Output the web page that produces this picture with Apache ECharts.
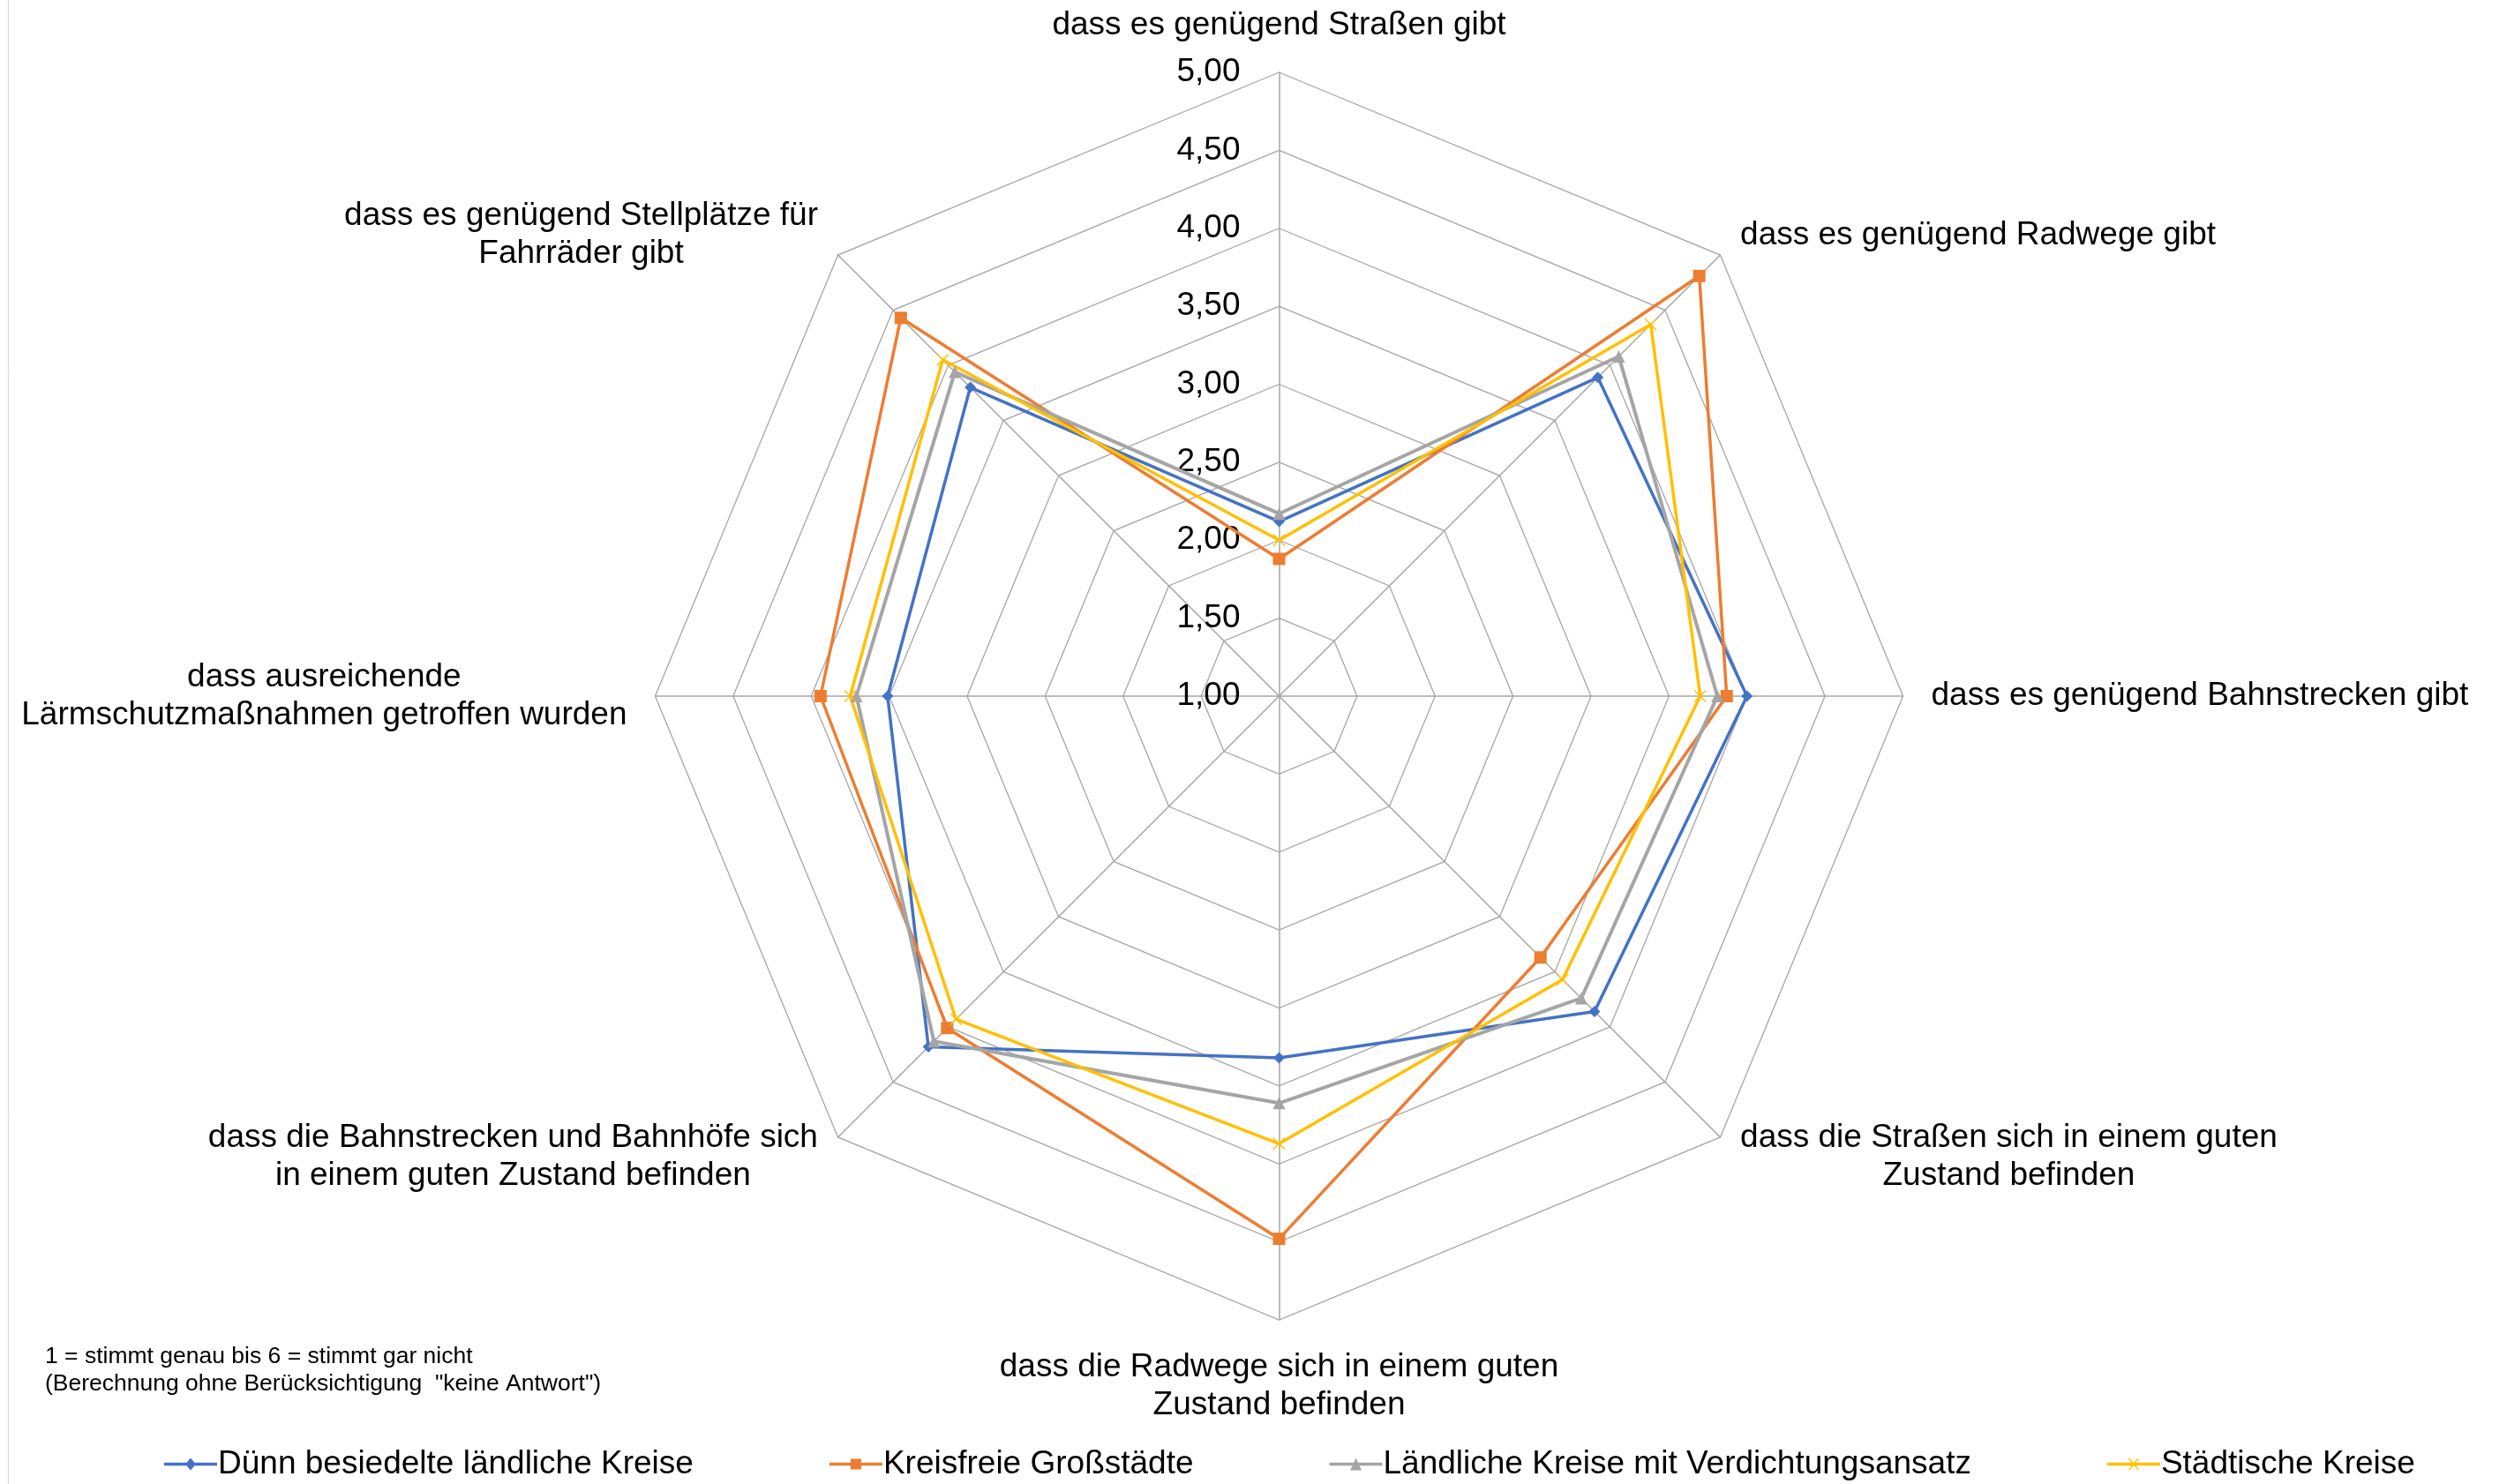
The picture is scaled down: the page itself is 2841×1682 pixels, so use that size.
<!DOCTYPE html>
<html>
<head>
<meta charset="utf-8">
<script src="https://cdn.jsdelivr.net/npm/echarts@6/dist/echarts.min.js"></script>
<style>
html,body{margin:0;padding:0;background:#fff;}
#chart{width:2841px;height:1682px;}
</style>
</head>
<body>
<div id="chart"></div>
<script>
// Categories in clockwise order starting at the top
const categories = [
  'dass es genügend Straßen gibt',
  'dass es genügend Radwege gibt',
  'dass es genügend Bahnstrecken gibt',
  'dass die Straßen sich in einem guten\nZustand befinden',
  'dass die Radwege sich in einem guten\nZustand befinden',
  'dass die Bahnstrecken und Bahnhöfe sich\nin einem guten Zustand befinden',
  'dass ausreichende\nLärmschutzmaßnahmen getroffen wurden',
  'dass es genügend Stellplätze für\nFahrräder gibt'
];
const seriesNames = [
  'Dünn besiedelte ländliche Kreise',
  'Kreisfreie Großstädte',
  'Ländliche Kreise mit Verdichtungsansatz',
  'Städtische Kreise'
];
const duennBesiedelt = [2.12, 3.89, 4.00, 3.86, 3.32, 4.18, 3.51, 3.80];
const kreisfreieGrossstaedte = [1.88, 4.81, 3.87, 3.37, 4.48, 4.01, 3.94, 4.43];
const laendlicheVerdichtung = [2.17, 4.08, 3.81, 3.74, 3.61, 4.13, 3.71, 3.94];
const staedtischeKreise = [2.00, 4.37, 3.70, 3.57, 3.87, 3.93, 3.75, 4.05];
const axisMin = 1;
const axisMax = 5;
const axisInterval = 0.5;
const noteLines = [
  '1 = stimmt genau bis 6 = stimmt gar nicht',
  '(Berechnung ohne Berücksichtigung  "keine Antwort")'
];

// ECharts radar runs counter-clockwise: reorder so the visual order is clockwise
const order = [0, 7, 6, 5, 4, 3, 2, 1];
const reorder = arr => order.map(i => arr[i]);

const colors = ['#4472C4', '#ED7D31', '#A5A5A5', '#FFC000'];
const symbols = [
  'diamond',
  'rect',
  'triangle',
  'path://M0,0.7 L0.7,0 L5,4.3 L9.3,0 L10,0.7 L5.7,5 L10,9.3 L9.3,10 L5,5.7 L0.7,10 L0,9.3 L4.3,5 Z'
];
const symbolSizes = [13, 14, 14, 14];
const allValues = [duennBesiedelt, kreisfreieGrossstaedte, laendlicheVerdichtung, staedtischeKreise];

// Legend icons: line segment with the series marker in the middle (60 x 14 box)
const legendLine = 'M0,5.3 H60 V8.7 H0 Z ';
const legendIcons = [
  'path://' + legendLine + 'M30,0 L36,7 L30,14 L24,7 Z',
  'path://' + legendLine + 'M24,1 H36 V13 H24 Z M0,0 H0.01 V14 H0 Z',
  'path://' + legendLine + 'M30,0 L36.5,14 L23.5,14 Z',
  'path://' + legendLine + 'M24,1 L25,0 L30,5.8 L35,0 L36,1 L31,7 L36,13 L35,14 L30,8.2 L25,14 L24,13 L29,7 Z'
];

const FONT = '"Liberation Sans", Arial, sans-serif';

const indicators = reorder(categories).map((name, i) => {
  const ind = { name: name, min: axisMin, max: axisMax };
  if (i === 0) ind.axisLabel = { show: true };
  return ind;
});

const chart = echarts.init(document.getElementById('chart'), null, { renderer: 'canvas' });
chart.setOption({
  animation: false,
  backgroundColor: '#ffffff',
  color: colors,
  textStyle: { fontFamily: FONT },
  legend: {
    data: seriesNames.map((n, k) => ({ name: n, icon: legendIcons[k] })),
    left: 181,
    top: 1636,
    itemGap: 154,
    itemWidth: 60,
    itemHeight: 14,
    itemStyle: { borderWidth: 0 },
    lineStyle: { width: 0 },
    textStyle: { fontFamily: FONT, fontSize: 37, color: '#000', padding: [0, 0, 0, -4] }
  },
  radar: {
    center: [1449.5, 789],
    radius: 707,
    startAngle: 90,
    splitNumber: Math.round((axisMax - axisMin) / axisInterval),
    shape: 'polygon',
    nameGap: 32,
    indicator: indicators,
    axisName: {
      color: '#000',
      fontFamily: FONT,
      fontSize: 37,
      lineHeight: 43,
      formatter: function (name) {
        return name.split('\n').map(l => '{c|' + l + '}').join('\n');
      },
      rich: {
        c: { align: 'center', fontFamily: FONT, fontSize: 37, lineHeight: 43, color: '#000' }
      }
    },
    axisLine: { lineStyle: { color: '#A6A6A6', width: 1.5 } },
    splitLine: { lineStyle: { color: '#A6A6A6', width: 1.3 } },
    splitArea: { show: false },
    axisTick: { show: false },
    axisLabel: {
      show: false,
      color: '#000',
      fontFamily: FONT,
      fontSize: 37,
      margin: 44,
      showMinLabel: true,
      formatter: v => v.toFixed(2).replace('.', ',')
    }
  },
  series: [{
    type: 'radar',
    emphasis: { disabled: true },
    data: allValues.map((vals, k) => ({
      name: seriesNames[k],
      value: reorder(vals),
      symbol: symbols[k],
      symbolSize: symbolSizes[k],
      lineStyle: { color: colors[k], width: k === 2 ? 4 : 3.5 },
      itemStyle: { color: colors[k] }
    }))
  }],
  graphic: [
    { type: 'line', shape: { x1: 9.5, y1: 0, x2: 9.5, y2: 1682 }, style: { stroke: '#D9D9D9', lineWidth: 1 } },
    { type: 'text', left: 51, top: 1524, style: { text: noteLines[0], fontFamily: FONT, fontSize: 26.5, fill: '#000' } },
    { type: 'text', left: 51, top: 1555, style: { text: noteLines[1], fontFamily: FONT, fontSize: 26.5, fill: '#000' } }
  ]
});
</script>
</body>
</html>
